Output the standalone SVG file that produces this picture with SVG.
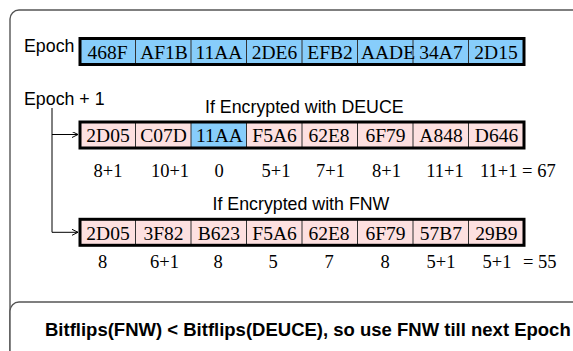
<svg xmlns="http://www.w3.org/2000/svg" width="573" height="351" viewBox="0 0 573 351">
<style>
.frame{fill:#fff;stroke:#555;stroke-width:1.4}
.lbl{font-family:"Liberation Sans",Arial,sans-serif;font-size:17.8px;fill:#000}
.bold{font-family:"Liberation Sans",Arial,sans-serif;font-size:18.5px;font-weight:bold;fill:#000}
.cell{font-family:"Liberation Serif","Times New Roman",serif;font-size:19.5px;fill:#000;text-anchor:middle}
.num{font-family:"Liberation Serif","Times New Roman",serif;font-size:18.5px;fill:#000;text-anchor:middle}
.numL{font-family:"Liberation Serif","Times New Roman",serif;font-size:18.5px;fill:#000}
.blue{fill:#87cdfb}
.pink{fill:#fde0e0}
.div{stroke:#333;stroke-width:1}
.outline{fill:none;stroke:#000;stroke-width:3}
.conn{fill:none;stroke:#000;stroke-width:1}
</style>
<defs>
<marker id="arr" markerUnits="userSpaceOnUse" markerWidth="8" markerHeight="8" refX="6" refY="3" orient="auto">
<path d="M0,0 L6,3 L0,6" fill="none" stroke="#000" stroke-width="1"/>
</marker>
</defs>
<rect class="frame" x="10" y="10" width="620" height="400" rx="9"/>

<g id="epoch-label"><text class="lbl" x="24" y="52">Epoch</text></g>
<g id="epoch-row">
<rect class="blue" x="80" y="38.5" width="444" height="26"/>
<g class="div">
<line x1="135.5" y1="38.5" x2="135.5" y2="64.5"/><line x1="191" y1="38.5" x2="191" y2="64.5"/><line x1="246.5" y1="38.5" x2="246.5" y2="64.5"/><line x1="302" y1="38.5" x2="302" y2="64.5"/><line x1="357.5" y1="38.5" x2="357.5" y2="64.5"/><line x1="413" y1="38.5" x2="413" y2="64.5"/><line x1="468.5" y1="38.5" x2="468.5" y2="64.5"/>
</g>
<text class="cell" x="107.5" y="59">468F</text>
<text class="cell" x="164" y="59">AF1B</text>
<text class="cell" x="219" y="59">11AA</text>
<text class="cell" x="274.5" y="59">2DE6</text>
<text class="cell" x="330" y="59">EFB2</text>
<text class="cell" x="388" y="59">AADE</text>
<text class="cell" x="441" y="59">34A7</text>
<text class="cell" x="496" y="59">2D15</text>
<rect class="outline" x="80" y="38.5" width="444" height="26"/>
</g>

<g id="epoch1-label"><text class="lbl" x="24" y="105">Epoch + 1</text></g>
<g id="deuce-title"><text class="lbl" x="205" y="113">If Encrypted with DEUCE</text></g>
<g id="deuce-row">
<rect class="pink" x="80" y="122" width="444" height="26"/>
<rect class="blue" x="191" y="122" width="55.5" height="26"/>
<g class="div">
<line x1="135.5" y1="122" x2="135.5" y2="148"/><line x1="191" y1="122" x2="191" y2="148"/><line x1="246.5" y1="122" x2="246.5" y2="148"/><line x1="302" y1="122" x2="302" y2="148"/><line x1="357.5" y1="122" x2="357.5" y2="148"/><line x1="413" y1="122" x2="413" y2="148"/><line x1="468.5" y1="122" x2="468.5" y2="148"/>
</g>
<text class="cell" x="108" y="142">2D05</text>
<text class="cell" x="163.5" y="142">C07D</text>
<text class="cell" x="219.5" y="142">11AA</text>
<text class="cell" x="274.5" y="142">F5A6</text>
<text class="cell" x="329" y="142">62E8</text>
<text class="cell" x="385.5" y="142">6F79</text>
<text class="cell" x="441" y="142">A848</text>
<text class="cell" x="496.5" y="142">D646</text>
<rect class="outline" x="80" y="122" width="444" height="26"/>
</g>
<g id="deuce-counts">
<text class="num" x="108" y="176.5">8+1</text>
<text class="num" x="170" y="176.5">10+1</text>
<text class="num" x="219" y="176.5">0</text>
<text class="num" x="276" y="176.5">5+1</text>
<text class="num" x="330.5" y="176.5">7+1</text>
<text class="num" x="386.5" y="176.5">8+1</text>
<text class="num" x="445" y="176.5">11+1</text>
<text class="numL" x="480" y="176.5">11+1 = 67</text>
</g>

<g id="fnw-title"><text class="lbl" x="212.5" y="210">If Encrypted with FNW</text></g>
<g id="fnw-row">
<rect class="pink" x="80" y="219.3" width="444" height="26"/>
<g class="div">
<line x1="135.5" y1="219.3" x2="135.5" y2="245.3"/><line x1="191" y1="219.3" x2="191" y2="245.3"/><line x1="246.5" y1="219.3" x2="246.5" y2="245.3"/><line x1="302" y1="219.3" x2="302" y2="245.3"/><line x1="357.5" y1="219.3" x2="357.5" y2="245.3"/><line x1="413" y1="219.3" x2="413" y2="245.3"/><line x1="468.5" y1="219.3" x2="468.5" y2="245.3"/>
</g>
<text class="cell" x="108" y="239.5">2D05</text>
<text class="cell" x="163.5" y="239.5">3F82</text>
<text class="cell" x="219" y="239.5">B623</text>
<text class="cell" x="274.5" y="239.5">F5A6</text>
<text class="cell" x="329" y="239.5">62E8</text>
<text class="cell" x="385.5" y="239.5">6F79</text>
<text class="cell" x="441" y="239.5">57B7</text>
<text class="cell" x="496.5" y="239.5">29B9</text>
<rect class="outline" x="80" y="219.3" width="444" height="26"/>
</g>
<g id="fnw-counts">
<text class="num" x="102.5" y="268">8</text>
<text class="num" x="164.5" y="268">6+1</text>
<text class="num" x="218" y="268">8</text>
<text class="num" x="273" y="268">5</text>
<text class="num" x="329" y="268">7</text>
<text class="num" x="385" y="268">8</text>
<text class="num" x="441" y="268">5+1</text>
<text class="num" x="497" y="268">5+1</text>
<text class="numL" x="523" y="268">= 55</text>
</g>

<g id="connectors">
<path class="conn" d="M52,108 V232.3 H78" marker-end="url(#arr)"/>
<path class="conn" d="M52,134.5 H78" marker-end="url(#arr)"/>
</g>

<g id="conclusion">
<rect class="frame" x="10" y="302" width="620" height="100" rx="9"/>
<text class="bold" x="45" y="336">Bitflips(FNW) &lt; Bitflips(DEUCE), so use FNW till next Epoch</text>
</g>
</svg>
